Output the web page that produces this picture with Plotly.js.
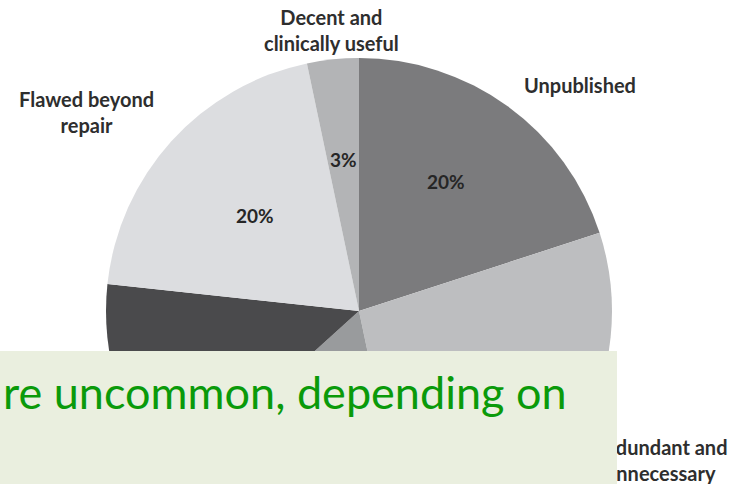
<!DOCTYPE html>
<html>
<head>
<meta charset="utf-8">
<script src="https://cdn.plot.ly/plotly-3.0.1.min.js"></script>
<style>
html,body{margin:0;padding:0;overflow:hidden;background:#fff;}
#chart{width:738px;height:622px;}
</style>
</head>
<body>
<div id="chart"></div>
<script>
// ---- data (clockwise from 12 o'clock) ----
var categories = ["Unpublished", "Redundant and<br>unnecessary", "Misleading, abandoned<br>genetics", "Decent, but<br>not useful", "Flawed beyond<br>repair", "Decent and<br>clinically useful"];
var shares = [20, 26.7, 16.6, 13.4, 20, 3.3];
var sliceColors = ["#7b7b7d", "#bdbec0", "#999b9d", "#4a4a4c", "#dcdde0", "#b3b4b6"];
var overlayText = "re uncommon, depending on";

// ---- layout helpers (pixel -> paper) ----
var W = 738, H = 622;
function px(x){ return x / W; }
function py(y){ return 1 - y / H; }

var total = shares.reduce(function(a,b){return a+b;}, 0);
var pctText = shares.map(function(v){ return Math.round(v / total * 100) + "%"; });

// label positions (null = hidden behind the overlay / off-picture)
var catPos = [[580, 85], [660, 460], null, null, [86, 112], [331, 30]];
var pctPos = [[446, 182], null, null, null, [255, 215], [343, 159]];

var labelFont = {family: "Lato, 'Open Sans', sans-serif", size: 20, color: "#2e2e2e", weight: 700};
var pctFont = {family: "Lato, 'Open Sans', sans-serif", size: 19, color: "#262626", weight: 700};

var annotations = [];
categories.forEach(function(c, i){
  if (!catPos[i]) return;
  annotations.push({text: "<b>" + c + "</b>", x: px(catPos[i][0]), y: py(catPos[i][1]),
    xref: "paper", yref: "paper", xanchor: "center", yanchor: "middle",
    showarrow: false, font: labelFont, align: "center"});
});
pctText.forEach(function(t, i){
  if (!pctPos[i]) return;
  annotations.push({text: "<b>" + t + "</b>", x: px(pctPos[i][0]), y: py(pctPos[i][1]),
    xref: "paper", yref: "paper", xanchor: "center", yanchor: "middle",
    showarrow: false, font: pctFont});
});
// overlay box (on top of everything drawn before)
annotations.push({text: " ", x: 0, y: py(351), xref: "paper", yref: "paper",
  xanchor: "left", yanchor: "top", width: 617, height: 150, bgcolor: "#eaefdf",
  borderpad: 0, borderwidth: 0, showarrow: false});
annotations.push({text: overlayText, x: px(1), y: py(392), xref: "paper", yref: "paper",
  xanchor: "left", yanchor: "middle", showarrow: false,
  font: {family: "Lato, 'Open Sans', sans-serif", size: 45, color: "#0a9a0a"}});

var trace = {
  type: "pie",
  labels: categories,
  values: shares,
  sort: false,
  direction: "clockwise",
  rotation: 0,
  textinfo: "none",
  hoverinfo: "label+percent",
  marker: {colors: sliceColors, line: {width: 0}},
  domain: {x: [px(106), px(612)], y: [py(564), py(58)]},
  showlegend: false
};

var layout = {
  width: W, height: H,
  margin: {l: 0, r: 0, t: 0, b: 0},
  paper_bgcolor: "#ffffff",
  showlegend: false,
  annotations: annotations
};

Plotly.newPlot("chart", [trace], layout, {displayModeBar: false, staticPlot: true});
</script>
</body>
</html>
